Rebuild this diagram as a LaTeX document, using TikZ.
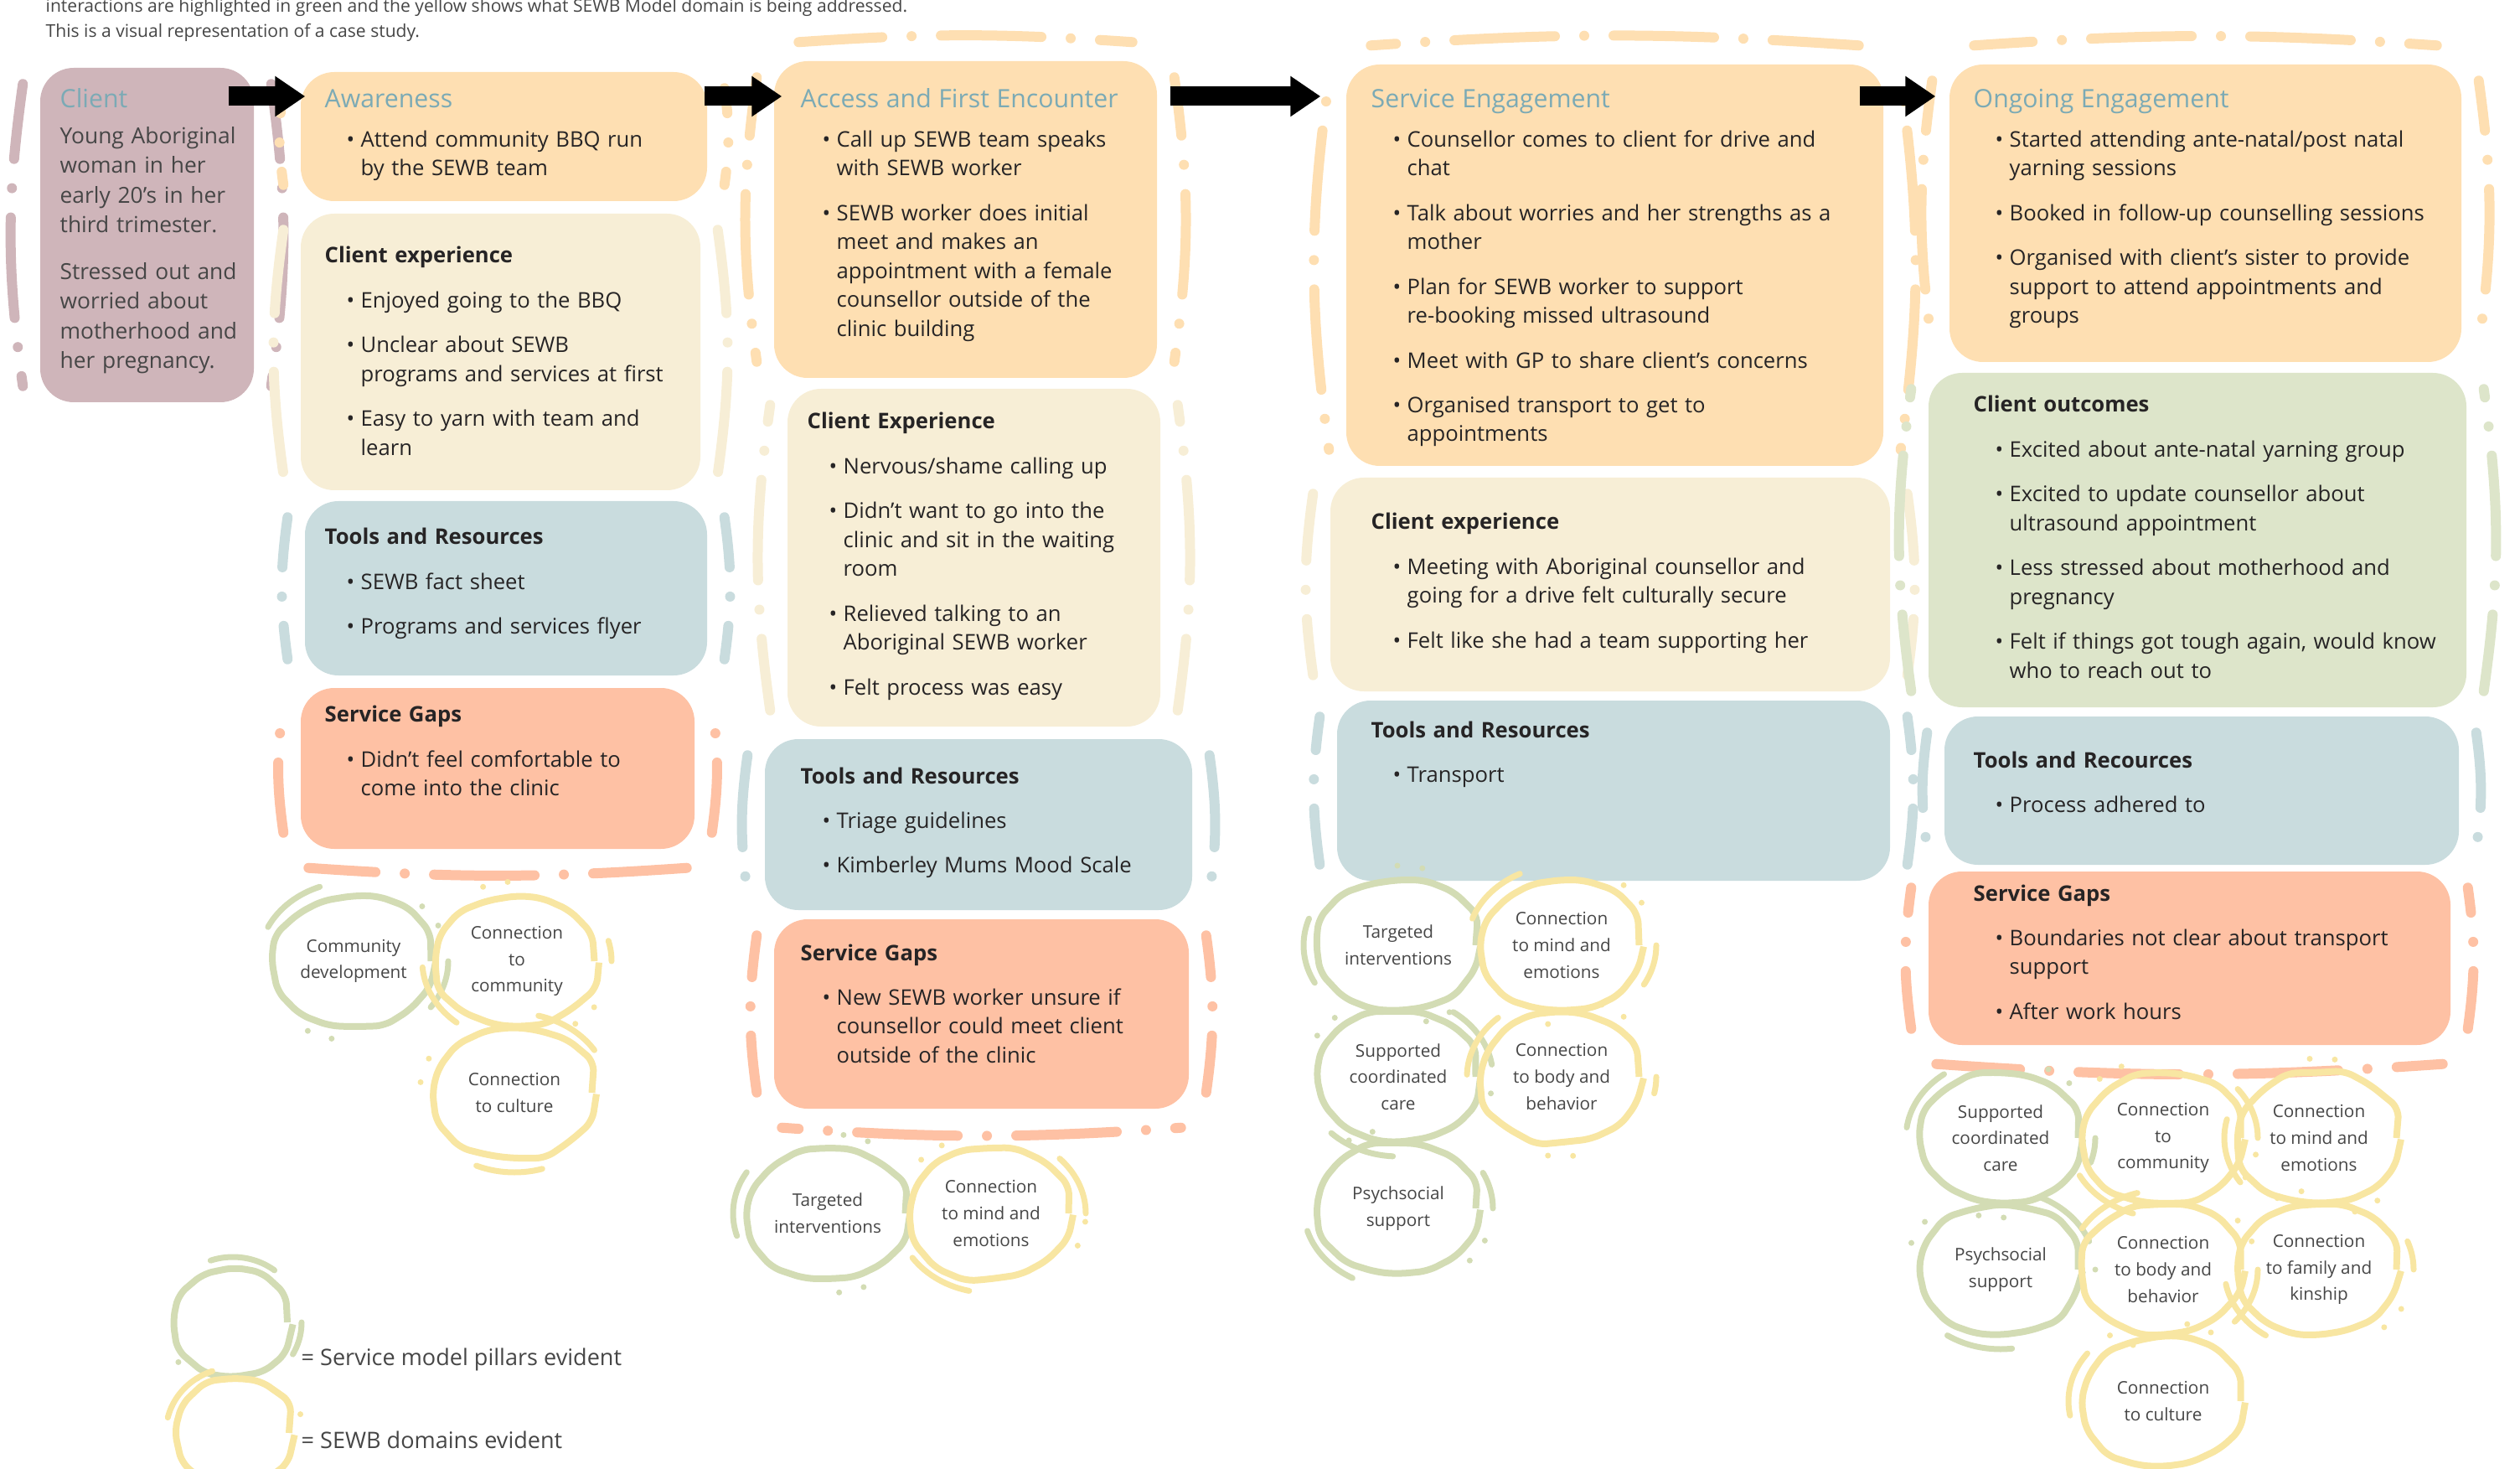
\documentclass[tikz,border=0pt]{standalone}
\usepackage{fontspec}
\setmainfont{Open Sans}
\usetikzlibrary{arrows.meta,fit,shapes.geometric,decorations.pathmorphing}

\definecolor{clientF}{RGB}{207,181,186}
\definecolor{orangeF}{RGB}{254,223,178}
\definecolor{creamF}{RGB}{247,238,214}
\definecolor{blueF}{RGB}{201,220,222}
\definecolor{salmonF}{RGB}{254,193,164}
\definecolor{greenF}{RGB}{221,229,202}
\definecolor{greenO}{RGB}{211,220,180}
\definecolor{yellowO}{RGB}{248,230,162}
\definecolor{titleC}{RGB}{123,170,181}
\definecolor{textC}{RGB}{38,36,37}
\definecolor{softC}{RGB}{70,70,70}

% text helpers
\def\ttl#1{{\color{titleC}\fontsize{8.6}{10}\selectfont #1\par}\vspace{-0.07cm}}
\def\hd#1{{\bfseries #1\par}}
\def\itm#1{\vspace{0.19cm}\hangindent=0.43cm\hangafter=1\noindent\hbox to 0.43cm{\hspace{0.26cm}\textbullet\hfil}{\let\\\newline #1}\par}
% side strokes round a box
\def\halo#1#2#3{%
  \draw[halo=#1, dash phase=#3] ([shift={(-0.2,0.2)}]#2.north west) to[bend right=8] ([shift={(-0.2,-0.2)}]#2.south west);
  \draw[halo=#1, dash phase=#3] ([shift={(0.2,0.2)}]#2.north east) to[bend left=8] ([shift={(0.2,-0.2)}]#2.south east);}
\def\halobot#1#2#3{%
  \draw[halo=#1, dash phase=#3] ([shift={(0.1,0.22)}]#2.south west) to[bend right=4] ([shift={(-0.1,0.22)}]#2.south east);}
\def\halotop#1#2#3{%
  \draw[halo=#1, dash phase=#3] ([shift={(0.3,-0.22)}]#2.north west) to[bend left=4] ([shift={(-0.3,-0.22)}]#2.north east);}
% pillar / domain ring
\def\pil#1#2#3#4#5#6{%
  \node[pillar=#2] (#1) at (#3,#4) {#5};
  \draw[ring=#2, dash phase=#6] (#1.center) ellipse [x radius=1.13, y radius=0.95];}

\begin{document}
\begin{tikzpicture}[x=1cm, y=-1cm,
  blob/.style={fill=#1, inner sep=0pt, rounded corners=0.4cm},
  halo/.style={draw=#1, line width=0.12cm, line cap=round, rounded corners=0.3cm,
    dash pattern=on 1.2cm off 0.35cm on 0cm off 0.35cm},
  txt/.style={anchor=base west, align=left, text width=#1, inner sep=0pt,
    font=\fontsize{7.3}{9.8}\selectfont, text=textC},
  note/.style={anchor=base west, inner sep=0pt, font=\fontsize{6}{7}\selectfont, text=softC},
  pillar/.style={ellipse, draw=#1, line width=0.08cm, minimum width=1.85cm, minimum height=1.5cm,
    inner sep=0pt, align=center, font=\fontsize{5.9}{9}\selectfont, text=softC,
    decorate, decoration={random steps, segment length=0.35cm, amplitude=0.03cm}, rounded corners=0.12cm},
  ring/.style={draw=#1, line width=0.07cm, line cap=round,
    dash pattern=on 0.8cm off 1.3cm on 0cm off 0.3cm on 0cm off 1.5cm},
  flow/.style={line width=0.23cm, -{Triangle[length=0.36cm, width=0.46cm]}}]
		%%%%% START %%%%%
		\pgfmathsetseed{7}
		\useasboundingbox (0,0) rectangle (30.08,17.53);
		
		\node[note] (noteA) at (0.54,0.15) {interactions are highlighted in green and the yellow shows what SEWB Model domain is being addressed.};
		\node[note] (noteB) at (0.54,0.45) {This is a visual representation of a case study.};
		
		% client
		\node[blob=clientF, fit={(0.48,0.81) (3.03,4.80)}] (clientBox) {};
		\halo{clientF}{clientBox}{0.3cm}
		\node[txt=2.4cm, font=\fontsize{7.5}{10.1}\selectfont, text=softC] (clientText) at (0.71,1.29)
			{\ttl{Client}\vspace{0.14cm}Young Aboriginal\\woman in her\\early 20’s in her\\third trimester.\par\vspace{0.2cm}Stressed out and\\worried about\\motherhood and\\her pregnancy.};
		
		% awareness
		\node[blob=orangeF, fit={(3.59,0.86) (8.44,2.40)}] (awBox) {};
		\node[blob=creamF, fit={(3.59,2.55) (8.36,5.85)}] (awExpBox) {};
		\node[blob=blueF, fit={(3.64,5.98) (8.44,8.06)}] (awToolBox) {};
		\node[blob=salmonF, fit={(3.59,8.21) (8.29,10.13)}] (awGapBox) {};
		\halo{orangeF}{awBox}{0.9cm}
		\halo{creamF}{awExpBox}{0.2cm}
		\halo{blueF}{awToolBox}{0.6cm}
		\halo{salmonF}{awGapBox}{1.2cm}
		\halobot{salmonF}{awGapBox}{0.4cm}
		\node[txt=5cm] (awText) at (3.87,1.29) {\ttl{Awareness}\itm{Attend community BBQ run\\by the SEWB team}};
		\node[txt=5cm] (awExpText) at (3.87,3.14) {\hd{Client experience}\itm{Enjoyed going to the BBQ}\itm{Unclear about SEWB\\programs and services at first}\itm{Easy to yarn with team and\\learn}};
		\node[txt=5cm] (awToolText) at (3.87,6.50) {\hd{Tools and Resources}\itm{SEWB fact sheet}\itm{Programs and services flyer}};
		\node[txt=5cm] (awGapText) at (3.87,8.62) {\hd{Service Gaps}\itm{Didn’t feel comfortable to\\come into the clinic}};
		\pil{awP1}{greenO}{4.22}{11.47}{Community\\development}{0.2cm}
		\pil{awD1}{yellowO}{6.17}{11.47}{Connection\\to\\community}{1.5cm}
		\pil{awD2}{yellowO}{6.14}{13.04}{Connection\\to culture}{2.6cm}
		
		% access and first encounter
		\node[blob=orangeF, fit={(9.24,0.73) (13.81,4.51)}] (accBox) {};
		\node[blob=creamF, fit={(9.40,4.64) (13.85,8.67)}] (accExpBox) {};
		\node[blob=blueF, fit={(9.13,8.82) (14.23,10.86)}] (accToolBox) {};
		\node[blob=salmonF, fit={(9.24,10.97) (14.19,13.23)}] (accGapBox) {};
		\halo{orangeF}{accBox}{0.5cm}
		\halotop{orangeF}{accBox}{0.2cm}
		\halo{creamF}{accExpBox}{1.0cm}
		\halo{blueF}{accToolBox}{0.1cm}
		\halo{salmonF}{accGapBox}{0.7cm}
		\halobot{salmonF}{accGapBox}{1.0cm}
		\node[txt=5cm] (accText) at (9.55,1.29) {\ttl{Access and First Encounter}\itm{Call up SEWB team speaks\\with SEWB worker}\itm{SEWB worker does initial\\meet and makes an\\appointment with a female\\counsellor outside of the\\clinic building}};
		\node[txt=5cm] (accExpText) at (9.63,5.12) {\hd{Client Experience}\itm{Nervous/shame calling up}\itm{Didn’t want to go into the\\clinic and sit in the waiting\\room}\itm{Relieved talking to an\\Aboriginal SEWB worker}\itm{Felt process was easy}};
		\node[txt=5cm] (accToolText) at (9.55,9.35) {\hd{Tools and Resources}\itm{Triage guidelines}\itm{Kimberley Mums Mood Scale}};
		\node[txt=5cm] (accGapText) at (9.55,11.46) {\hd{Service Gaps}\itm{New SEWB worker unsure if\\counsellor could meet client\\outside of the clinic}};
		\pil{accP1}{greenO}{9.88}{14.48}{Targeted\\interventions}{0.9cm}
		\pil{accD1}{yellowO}{11.83}{14.48}{Connection\\to mind and\\emotions}{2.0cm}
		
		% service engagement
		\node[blob=orangeF, fit={(16.07,0.77) (22.48,5.56)}] (seBox) {};
		\node[blob=creamF, fit={(15.88,5.70) (22.56,8.25)}] (seExpBox) {};
		\node[blob=blueF, fit={(15.96,8.36) (22.56,10.51)}] (seToolBox) {};
		\halo{orangeF}{seBox}{1.3cm}
		\halotop{orangeF}{seBox}{0.9cm}
		\halo{creamF}{seExpBox}{0.4cm}
		\halo{blueF}{seToolBox}{0.8cm}
		\node[txt=6.5cm] (seText) at (16.36,1.29) {\ttl{Service Engagement}\itm{Counsellor comes to client for drive and\\chat}\itm{Talk about worries and her strengths as a\\mother}\itm{Plan for SEWB worker to support\\re-booking missed ultrasound}\itm{Meet with GP to share client’s concerns}\itm{Organised transport to get to\\appointments}};
		\node[txt=6.5cm] (seExpText) at (16.36,6.32) {\hd{Client experience}\itm{Meeting with Aboriginal counsellor and\\going for a drive felt culturally secure}\itm{Felt like she had a team supporting her}};
		\node[txt=6.5cm] (seToolText) at (16.36,8.80) {\hd{Tools and Resources}\itm{Transport}};
		\pil{seP1}{greenO}{16.69}{11.28}{Targeted\\interventions}{1.1cm}
		\pil{seD1}{yellowO}{18.64}{11.28}{Connection\\to mind and\\emotions}{0.3cm}
		\pil{seP2}{greenO}{16.69}{12.85}{Supported\\coordinated\\care}{2.2cm}
		\pil{seD2}{yellowO}{18.64}{12.85}{Connection\\to body and\\behavior}{0.6cm}
		\pil{seP3}{greenO}{16.69}{14.42}{Psychsocial\\support}{1.7cm}
		
		% ongoing engagement
		\node[blob=orangeF, fit={(23.27,0.77) (29.38,4.32)}] (ogBox) {};
		\node[blob=greenF, fit={(23.02,4.45) (29.44,8.44)}] (ogOutBox) {};
		\node[blob=blueF, fit={(23.21,8.55) (29.35,10.32)}] (ogToolBox) {};
		\node[blob=salmonF, fit={(23.02,10.40) (29.25,12.47)}] (ogGapBox) {};
		\halo{orangeF}{ogBox}{0.6cm}
		\halotop{orangeF}{ogBox}{0.5cm}
		\halo{greenF}{ogOutBox}{1.1cm}
		\halo{blueF}{ogToolBox}{0.3cm}
		\halo{salmonF}{ogGapBox}{0.9cm}
		\halobot{salmonF}{ogGapBox}{0.2cm}
		\node[txt=6.5cm] (ogText) at (23.55,1.29) {\ttl{Ongoing Engagement}\itm{Started attending ante-natal/post natal\\yarning sessions}\itm{Booked in follow-up counselling sessions}\itm{Organised with client’s sister to provide\\support to attend appointments and\\groups}};
		\node[txt=6.5cm] (ogOutText) at (23.55,4.92) {\hd{Client outcomes}\itm{Excited about ante-natal yarning group}\itm{Excited to update counsellor about\\ultrasound appointment}\itm{Less stressed about motherhood and\\pregnancy}\itm{Felt if things got tough again, would know\\who to reach out to}};
		\node[txt=6.5cm] (ogToolText) at (23.55,9.16) {\hd{Tools and Recources}\itm{Process adhered to}};
		\node[txt=6.5cm] (ogGapText) at (23.55,10.75) {\hd{Service Gaps}\itm{Boundaries not clear about transport\\support}\itm{After work hours}};
		\pil{ogP1}{greenO}{23.88}{13.58}{Supported\\coordinated\\care}{0.5cm}
		\pil{ogD1}{yellowO}{25.82}{13.58}{Connection\\to\\community}{1.9cm}
		\pil{ogD2}{yellowO}{27.68}{13.58}{Connection\\to mind and\\emotions}{1.2cm}
		\pil{ogP2}{greenO}{23.88}{15.15}{Psychsocial\\support}{2.4cm}
		\pil{ogD3}{yellowO}{25.82}{15.15}{Connection\\to body and\\behavior}{0.1cm}
		\pil{ogD4}{yellowO}{27.68}{15.15}{Connection\\to family and\\kinship}{1.6cm}
		\pil{ogD5}{yellowO}{25.82}{16.72}{Connection\\to culture}{0.8cm}
		
		% arrows along the top
		\coordinate (arrowRow) at (0,1.15);
		\draw[flow] ([xshift=-0.31cm]clientBox.east |- arrowRow) -- ([xshift=0.06cm]awBox.west |- arrowRow);
		\draw[flow] ([xshift=-0.04cm]awBox.east |- arrowRow) -- ([xshift=0.10cm]accBox.west |- arrowRow);
		\draw[flow] ([xshift=0.15cm]accBox.east |- arrowRow) -- ([xshift=-0.30cm]seBox.west |- arrowRow);
		\draw[flow] ([xshift=-0.29cm]seBox.east |- arrowRow) -- ([xshift=-0.16cm]ogBox.west |- arrowRow);
		
		% legend
		\node[pillar=greenO, minimum width=1.3cm, minimum height=1.2cm] (legPillar) at (2.78,15.78) {};
		\draw[ring=greenO, dash phase=0.4cm] (legPillar.center) ellipse [x radius=0.82, y radius=0.78];
		\node[pillar=yellowO, minimum width=1.3cm, minimum height=1.2cm] (legDomain) at (2.80,17.10) {};
		\draw[ring=yellowO, dash phase=1.2cm] (legDomain.center) ellipse [x radius=0.82, y radius=0.78];
		\node[anchor=base west, inner sep=0pt, font=\fontsize{7.7}{9}\selectfont, text=softC] (legPillarText) at (3.59,16.29) {= Service model pillars evident};
		\node[anchor=base west, inner sep=0pt, font=\fontsize{7.7}{9}\selectfont, text=softC] (legDomainText) at (3.59,17.28) {= SEWB domains evident};
		
		%%%%% END %%%%%
\end{tikzpicture}
\end{document}
